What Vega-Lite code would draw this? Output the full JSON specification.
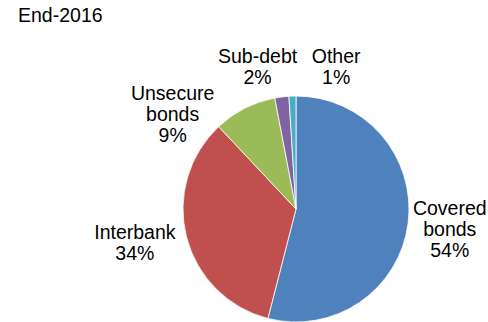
{
  "$schema": "https://vega.github.io/schema/vega-lite/v6.json",
  "width": 226,
  "height": 226,
  "autosize": {"type": "none"},
  "padding": {"left": 183, "top": 96, "right": 79, "bottom": 0},
  "background": "white",
  "view": {"stroke": null},
  "title": {"text": "End-2016", "anchor": "start", "frame": "group", "dx": -165, "offset": 0, "dy": 16, "baseline": "alphabetic", "font": "Liberation Sans", "fontSize": 19.5, "fontWeight": "normal", "color": "black"},
  "data": {"values": [
    {"category": "Covered bonds", "share": 54, "label": "Covered\nbonds\n54%"},
    {"category": "Interbank", "share": 34, "label": "Interbank\n34%"},
    {"category": "Unsecure bonds", "share": 9, "label": "Unsecure\nbonds\n9%"},
    {"category": "Sub-debt", "share": 2, "label": "Sub-debt\n2%"},
    {"category": "Other", "share": 1, "label": "Other\n1%"}
  ]},
  "encoding": {
    "theta": {"field": "share", "type": "quantitative", "stack": true},
    "order": {"field": "share", "type": "quantitative", "sort": "descending"}
  },
  "layer": [
    {
      "mark": {"type": "arc", "stroke": "white", "strokeWidth": 0.8},
      "encoding": {
        "color": {"field": "category", "type": "nominal", "legend": null,
          "scale": {"domain": ["Covered bonds", "Interbank", "Unsecure bonds", "Sub-debt", "Other"],
                    "range": ["#4F81BD", "#C0504D", "#9BBB59", "#8064A2", "#4BACC6"]}}
      }
    },
    {
      "mark": {"type": "text", "radius": 155, "dx": 0, "dy": -19, "font": "Liberation Sans", "fontSize": 19.5, "lineBreak": "\n", "lineHeight": 21, "align": "center", "baseline": "middle", "color": "black"},
      "encoding": {"text": {"condition": {"test": "datum.category === 'Covered bonds'", "field": "label"}, "value": ""}}
    },
    {
      "mark": {"type": "text", "radius": 155, "dx": -11, "dy": -14.5, "font": "Liberation Sans", "fontSize": 19.5, "lineBreak": "\n", "lineHeight": 21, "align": "center", "baseline": "middle", "color": "black"},
      "encoding": {"text": {"condition": {"test": "datum.category === 'Interbank'", "field": "label"}, "value": ""}}
    },
    {
      "mark": {"type": "text", "radius": 155, "dx": -53, "dy": 23, "font": "Liberation Sans", "fontSize": 19.5, "lineBreak": "\n", "lineHeight": 21, "align": "center", "baseline": "middle", "color": "black"},
      "encoding": {"text": {"condition": {"test": "datum.category === 'Unsecure bonds'", "field": "label"}, "value": ""}}
    },
    {
      "mark": {"type": "text", "radius": 155, "dx": -19, "dy": 1.5, "font": "Liberation Sans", "fontSize": 19.5, "lineBreak": "\n", "lineHeight": 21, "align": "center", "baseline": "middle", "color": "black"},
      "encoding": {"text": {"condition": {"test": "datum.category === 'Sub-debt'", "field": "label"}, "value": ""}}
    },
    {
      "mark": {"type": "text", "radius": 155, "dx": 45, "dy": 2.5, "font": "Liberation Sans", "fontSize": 19.5, "lineBreak": "\n", "lineHeight": 21, "align": "center", "baseline": "middle", "color": "black"},
      "encoding": {"text": {"condition": {"test": "datum.category === 'Other'", "field": "label"}, "value": ""}}
    }
  ]
}
